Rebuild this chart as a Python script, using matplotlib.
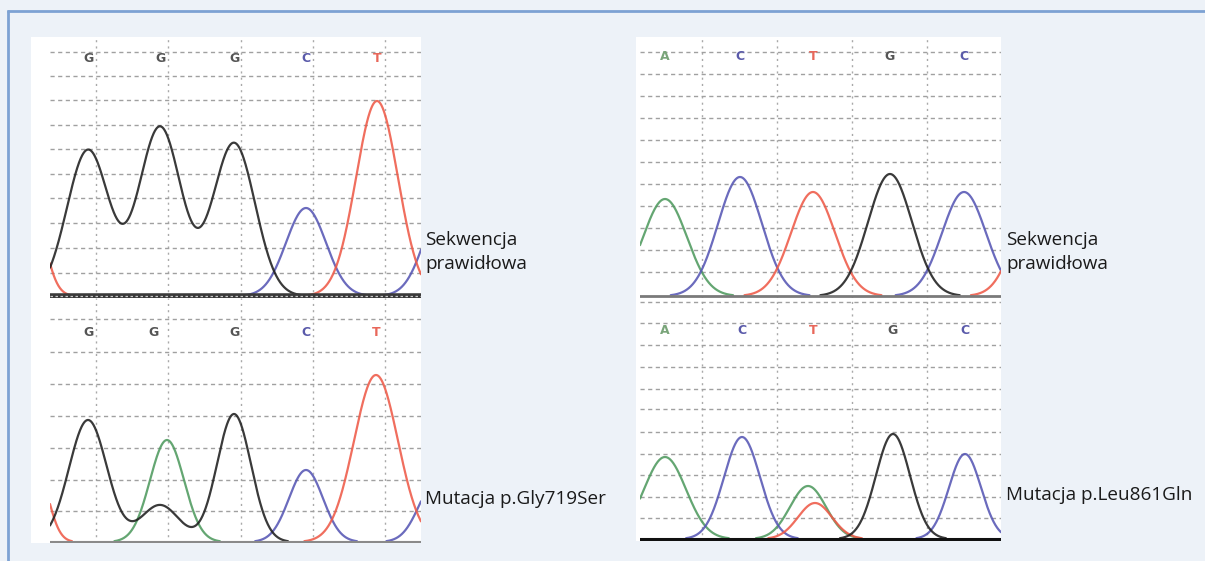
import numpy as np
import matplotlib
matplotlib.use("Agg")
import matplotlib.pyplot as plt
from matplotlib.patches import Rectangle

W, H = 1205, 561

# ---------------- data (scan units / signal intensity) ----------------
# top-left: normal sequence (G G G C T)
tl_bases = ['G', 'G', 'G', 'C', 'T']
tl_base_pos = [38, 110, 184, 256, 327]
tl_peak_base = ['T', 'G', 'G', 'G', 'C', 'T', 'C']
tl_peak_pos = [-19, 38, 110, 184, 256, 327, 395]
tl_peak_h = [95, 146, 169, 153, 88, 195, 95]
tl_peak_w = [13, 21, 21, 21, 20, 21, 20]
tl_hgrid = [23, 48, 73, 98, 122, 147, 171, 196, 220, 244]
tl_vgrid = [46, 118, 191, 263, 335]

# bottom-left: p.Gly719Ser
bl_bases = ['G', 'G', 'G', 'C', 'T']
bl_base_pos = [38, 103, 184, 256, 326]
bl_peak_base = ['T', 'G', 'G', 'G', 'A', 'C', 'T', 'C']
bl_peak_pos = [-14, 38, 110, 184, 117, 256, 326, 386]
bl_peak_h = [75, 122, 37, 128, 102, 72, 167, 60]
bl_peak_w = [12, 19, 19, 17, 17, 17, 22, 17]
bl_hgrid = [31, 62, 94, 126, 158, 190, 223]
bl_vgrid = [46, 118, 191, 263, 335]

# top-right: normal sequence (A C T G C)
tr_bases = ['A', 'C', 'T', 'G', 'C']
tr_base_pos = [25, 100, 173, 250, 324]
tr_peak_base = ['A', 'C', 'T', 'G', 'C', 'T']
tr_peak_pos = [25, 100, 173, 250, 324, 396]
tr_peak_h = [97, 119, 104, 122, 104, 100]
tr_peak_w = [22, 22, 22, 22, 22, 21]
tr_hgrid = [24, 46, 68, 90, 112, 134, 156, 178, 200, 222, 244]
tr_vgrid = [62, 137, 212, 287]

# bottom-right: p.Leu861Gln
br_bases = ['A', 'C', 'T', 'G', 'C']
br_base_pos = [25, 102, 173, 253, 325]
br_peak_base = ['A', 'C', 'A', 'T', 'G', 'C']
br_peak_pos = [25, 102, 168, 175, 253, 325]
br_peak_h = [82, 102, 53, 36, 105, 85]
br_peak_w = [21, 18, 18, 17, 17, 16]
br_hgrid = [21, 42, 64, 85, 107, 130, 150, 172, 194, 216, 237]
br_vgrid = [62, 137, 212, 287]

labels_normal = "Sekwencja\nprawidłowa"
label_mut_left = "Mutacja p.Gly719Ser"
label_mut_right = "Mutacja p.Leu861Gln"

# ---------------- styles ----------------
trace_col = {'G': '#1e1e1e', 'A': '#4f9a5f', 'C': '#5656b4', 'T': '#ee5a48'}
letter_col = {'G': '#555555', 'A': '#7aa57a', 'C': '#5a5aaa', 'T': '#e8675a'}
BG = '#edf2f8'

fig = plt.figure(figsize=(W / 100, H / 100), dpi=100)
fig.patch.set_facecolor(BG)

bg = fig.add_axes([0, 0, 1, 1])
bg.set_xlim(0, W)
bg.set_ylim(H, 0)
bg.axis('off')
bg.set_zorder(0)
# blue frame lines
bg.plot([7, W], [10.5, 10.5], color='#7da2d3', lw=2, solid_capstyle='butt')
bg.plot([7.5, 7.5], [10, H], color='#7da2d3', lw=2, solid_capstyle='butt')
# white picture areas
bg.add_patch(Rectangle((31, 37), 390, 506, facecolor='white', edgecolor='none'))
bg.add_patch(Rectangle((636, 37), 365, 504, facecolor='white', edgecolor='none'))


def panel(box, xmax, ylim, bases, base_pos, label_y, pk_base, pk_pos, pk_h, pk_w,
          hgrid, vgrid, base_style):
    x0, y0, x1, y1 = box
    ax = fig.add_axes([x0 / W, 1 - y1 / H, (x1 - x0) / W, (y1 - y0) / H])
    ax.set_zorder(1)
    ax.set_facecolor('none')
    ax.set_xlim(0, xmax)
    ax.set_ylim(*ylim)
    for s in ax.spines.values():
        s.set_visible(False)
    ax.set_xticks(vgrid)
    ax.set_yticks(hgrid)
    ax.tick_params(length=0, labelbottom=False, labelleft=False)
    ax.xaxis.grid(True, color='#a9a9a9', lw=1.0, ls=(0, (1.5, 3.0)))
    ax.yaxis.grid(True, color='#a0a0a0', lw=1.0, ls=(0, (3.0, 2.5)))
    ax.set_axisbelow(True)

    x = np.linspace(0, xmax, 1200)
    for ch in ['A', 'C', 'T', 'G']:
        y = np.zeros_like(x)
        has = False
        for b, p, h, w in zip(pk_base, pk_pos, pk_h, pk_w):
            if b == ch:
                y += h * np.exp(-(x - p) ** 2 / (2 * w ** 2))
                has = True
        if not has:
            continue
        y = np.where(y < 0.8, np.nan, y)
        ax.plot(x, y, color=trace_col[ch], lw=1.6, alpha=0.88, zorder=3,
                solid_capstyle='round')

    for b, p in zip(bases, base_pos):
        ax.text(p, label_y, b, color=letter_col[b], fontsize=9, fontweight='bold',
                ha='center', va='center', zorder=4)

    # baseline
    kind = base_style
    if kind == 'double':
        ax.axhline(0, color='#3a3a3a', lw=4.0, zorder=5)
        ax.axhline(0, color='#c8c8c8', lw=0.9, ls=(0, (2, 2)), zorder=6)
    elif kind == 'gray':
        ax.axhline(0, color='#7a7a7a', lw=2.0, zorder=5)
    elif kind == 'light':
        ax.axhline(0, color='#8a8a8a', lw=1.5, zorder=5)
    else:
        ax.axhline(0, color='#111111', lw=2.2, zorder=5)
    return ax


panel((50, 37, 421, 298), 371, (-2, 259), tl_bases, tl_base_pos, 238,
      tl_peak_base, tl_peak_pos, tl_peak_h, tl_peak_w, tl_hgrid, tl_vgrid, 'double')
panel((50, 298, 421, 543), 371, (-1, 244), bl_bases, bl_base_pos, 210,
      bl_peak_base, bl_peak_pos, bl_peak_h, bl_peak_w, bl_hgrid, bl_vgrid, 'light')
panel((640, 37, 1001, 298), 361, (-2, 259), tr_bases, tr_base_pos, 239,
      tr_peak_base, tr_peak_pos, tr_peak_h, tr_peak_w, tr_hgrid, tr_vgrid, 'gray')
panel((640, 298, 1001, 541), 361, (-2, 241), br_bases, br_base_pos, 209,
      br_peak_base, br_peak_pos, br_peak_h, br_peak_w, br_hgrid, br_vgrid, 'black')

tkw = dict(fontsize=13.6, family=['Open Sans', 'DejaVu Sans'], color='#1a1a1a',
           ha='left', va='center', linespacing=1.45)
bg.text(425, 252, labels_normal, **tkw)
bg.text(1006, 252, labels_normal, **tkw)
bg.text(425, 499, label_mut_left, **tkw)
bg.text(1006, 495, label_mut_right, **tkw)

fig.savefig("out.png", dpi=100, facecolor=fig.get_facecolor())
